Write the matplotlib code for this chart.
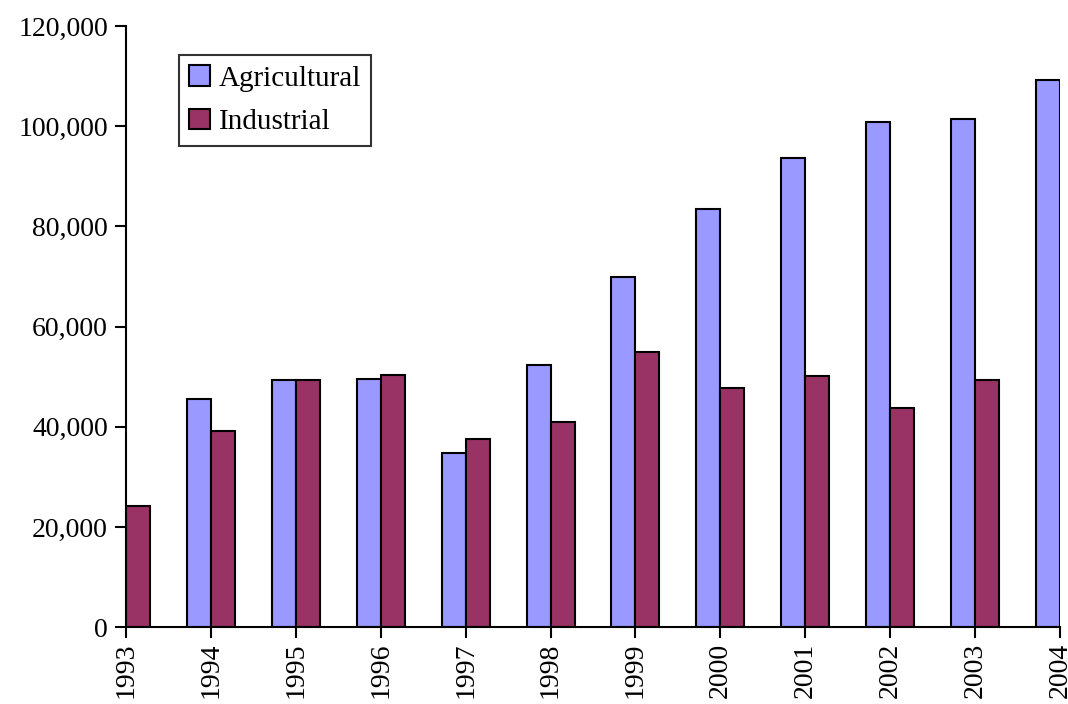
import matplotlib.pyplot as plt
import numpy as np
from matplotlib.ticker import FuncFormatter

years = [1993, 1994, 1995, 1996, 1997, 1998, 1999, 2000, 2001, 2002, 2003, 2004]
agricultural = [0, 45500, 49300, 49500, 34700, 52300, 69900, 83400, 93600, 100800, 101400, 109200]
industrial = [24150, 39100, 49300, 50300, 37500, 40900, 54900, 47700, 50100, 43700, 49300, 0]

plt.rcParams['font.family'] = ['Liberation Serif', 'DejaVu Serif']

fig = plt.figure(figsize=(10.68, 7.04), dpi=100)
ax = fig.add_axes([0.118, 0.109, 0.8745, 0.854])

x = np.array(years)
w = 0.283
ax.bar(x - w / 2, agricultural, width=w, color='#9999FF', edgecolor='black', linewidth=1.5, label='Agricultural')
ax.bar(x + w / 2, industrial, width=w, color='#993366', edgecolor='black', linewidth=1.5, label='Industrial')

ax.set_xlim(1993, 2004)
ax.set_ylim(0, 120000)
ax.set_xticks(years)
ax.set_xticklabels([str(y) for y in years], rotation=90, fontsize=20)
ax.set_yticks(range(0, 120001, 20000))
ax.yaxis.set_major_formatter(FuncFormatter(lambda v, p: f"{int(v):,}"))
ax.tick_params(axis='y', labelsize=20, direction='out', length=8, width=1.5, pad=5)
ax.tick_params(axis='x', direction='out', length=8, width=1.5, pad=3)

ax.spines['top'].set_visible(False)
ax.spines['right'].set_visible(False)
ax.spines['left'].set_linewidth(1.5)
ax.spines['bottom'].set_linewidth(1.5)

leg = ax.legend(loc='upper left', bbox_to_anchor=(0.057, 0.952), fontsize=21, frameon=True,
                fancybox=False, edgecolor='black', handlelength=0.7, handleheight=0.7,
                handletextpad=0.3, borderpad=0.35, labelspacing=0.6, borderaxespad=0)
leg.get_frame().set_linewidth(1.5)

fig.savefig('out.png', dpi=100)
